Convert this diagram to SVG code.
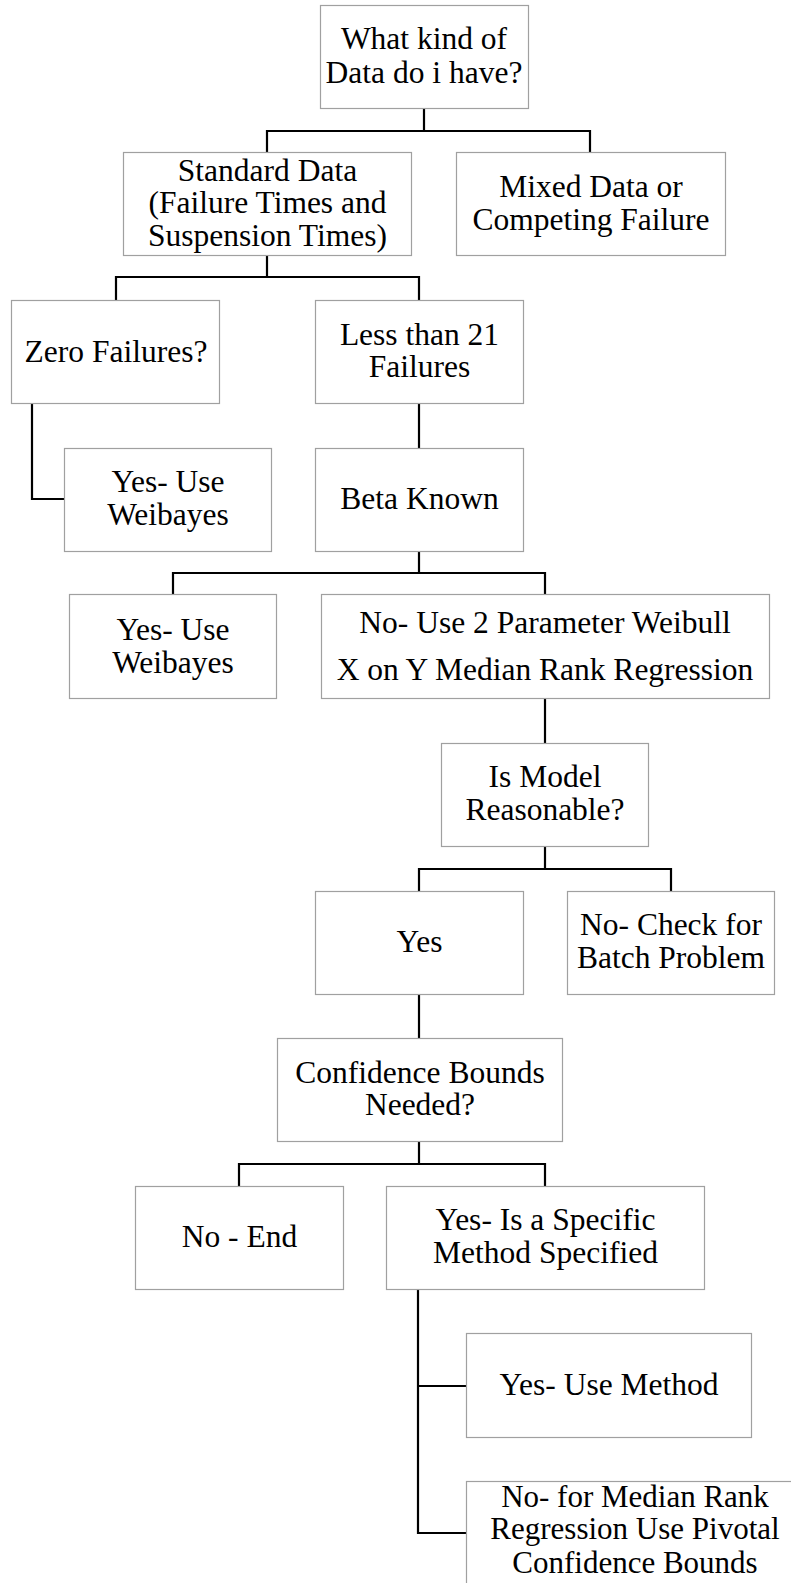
<svg xmlns="http://www.w3.org/2000/svg" width="791" height="1583" viewBox="0 0 791 1583">
<style>
.box{fill:#fff;stroke:#a0a0a0;stroke-width:1.2}
.t{font-family:'Liberation Serif','Times New Roman',serif;font-size:31.5px;fill:#000;text-anchor:middle}
.c{fill:none;stroke:#000;stroke-width:2.2}
</style>
<rect width="791" height="1583" fill="#fff"/>
<g id="connectors">
<path class="c" d="M424 109V131M267 131H590M267 130V152M590 130V152"/>
<path class="c" d="M267 256V277M116 277H419M116 276V300M419 276V300"/>
<path class="c" d="M32 404V499H64"/>
<path class="c" d="M419 404V448"/>
<path class="c" d="M419 552V573M173 573H545M173 572V594M545 572V594"/>
<path class="c" d="M545 699V743"/>
<path class="c" d="M545 847V869M419 869H671M419 868V891M671 868V891"/>
<path class="c" d="M419 995V1038"/>
<path class="c" d="M419 1142V1164M239 1164H545M239 1163V1186M545 1163V1186"/>
<path class="c" d="M418 1290V1533H466M418 1386H466"/>
</g>
<g id="n1"><rect class="box" x="320.5" y="5.5" width="208" height="103"/><text class="t" x="424" y="49">What kind of</text><text class="t" x="424" y="83">Data do i have?</text></g>
<g id="n2"><rect class="box" x="123.5" y="152.5" width="288" height="103"/><text class="t" x="267.5" y="181">Standard Data</text><text class="t" x="267.5" y="213">(Failure Times and</text><text class="t" x="267.5" y="246">Suspension Times)</text></g>
<g id="n3"><rect class="box" x="456.5" y="152.5" width="269" height="103"/><text class="t" x="591" y="197">Mixed Data or</text><text class="t" x="591" y="230">Competing Failure</text></g>
<g id="n4"><rect class="box" x="11.5" y="300.5" width="208" height="103"/><text class="t" x="116" y="362">Zero Failures?</text></g>
<g id="n5"><rect class="box" x="315.5" y="300.5" width="208" height="103"/><text class="t" x="419.5" y="345">Less than 21</text><text class="t" x="419.5" y="377">Failures</text></g>
<g id="n6"><rect class="box" x="64.5" y="448.5" width="207" height="103"/><text class="t" x="168" y="492">Yes- Use</text><text class="t" x="168" y="525">Weibayes</text></g>
<g id="n7"><rect class="box" x="315.5" y="448.5" width="208" height="103"/><text class="t" x="419.5" y="509">Beta Known</text></g>
<g id="n8"><rect class="box" x="69.5" y="594.5" width="207" height="104"/><text class="t" x="173" y="640">Yes- Use</text><text class="t" x="173" y="673">Weibayes</text></g>
<g id="n9"><rect class="box" x="321.5" y="594.5" width="448" height="104"/><text class="t" x="545" y="633">No- Use 2 Parameter Weibull</text><text class="t" x="545" y="680">X on Y Median Rank Regression</text></g>
<g id="n10"><rect class="box" x="441.5" y="743.5" width="207" height="103"/><text class="t" x="545" y="787">Is Model</text><text class="t" x="545" y="820">Reasonable?</text></g>
<g id="n11"><rect class="box" x="315.5" y="891.5" width="208" height="103"/><text class="t" x="419.5" y="952">Yes</text></g>
<g id="n12"><rect class="box" x="567.5" y="891.5" width="207" height="103"/><text class="t" x="671" y="935">No- Check for</text><text class="t" x="671" y="968">Batch Problem</text></g>
<g id="n13"><rect class="box" x="277.5" y="1038.5" width="285" height="103"/><text class="t" x="420" y="1083">Confidence Bounds</text><text class="t" x="420" y="1115">Needed?</text></g>
<g id="n14"><rect class="box" x="135.5" y="1186.5" width="208" height="103"/><text class="t" x="239.5" y="1247">No - End</text></g>
<g id="n15"><rect class="box" x="386.5" y="1186.5" width="318" height="103"/><text class="t" x="545.5" y="1230">Yes- Is a Specific</text><text class="t" x="545.5" y="1263">Method Specified</text></g>
<g id="n16"><rect class="box" x="466.5" y="1333.5" width="285" height="104"/><text class="t" x="609" y="1395">Yes- Use Method</text></g>
<g id="n17"><rect class="box" x="466.5" y="1481.5" width="340" height="110"/><text class="t" x="635" y="1507" style="font-size:31px">No- for Median Rank</text><text class="t" x="635" y="1539" style="font-size:31px">Regression Use Pivotal</text><text class="t" x="635" y="1573" style="font-size:31px">Confidence Bounds</text></g>
</svg>
